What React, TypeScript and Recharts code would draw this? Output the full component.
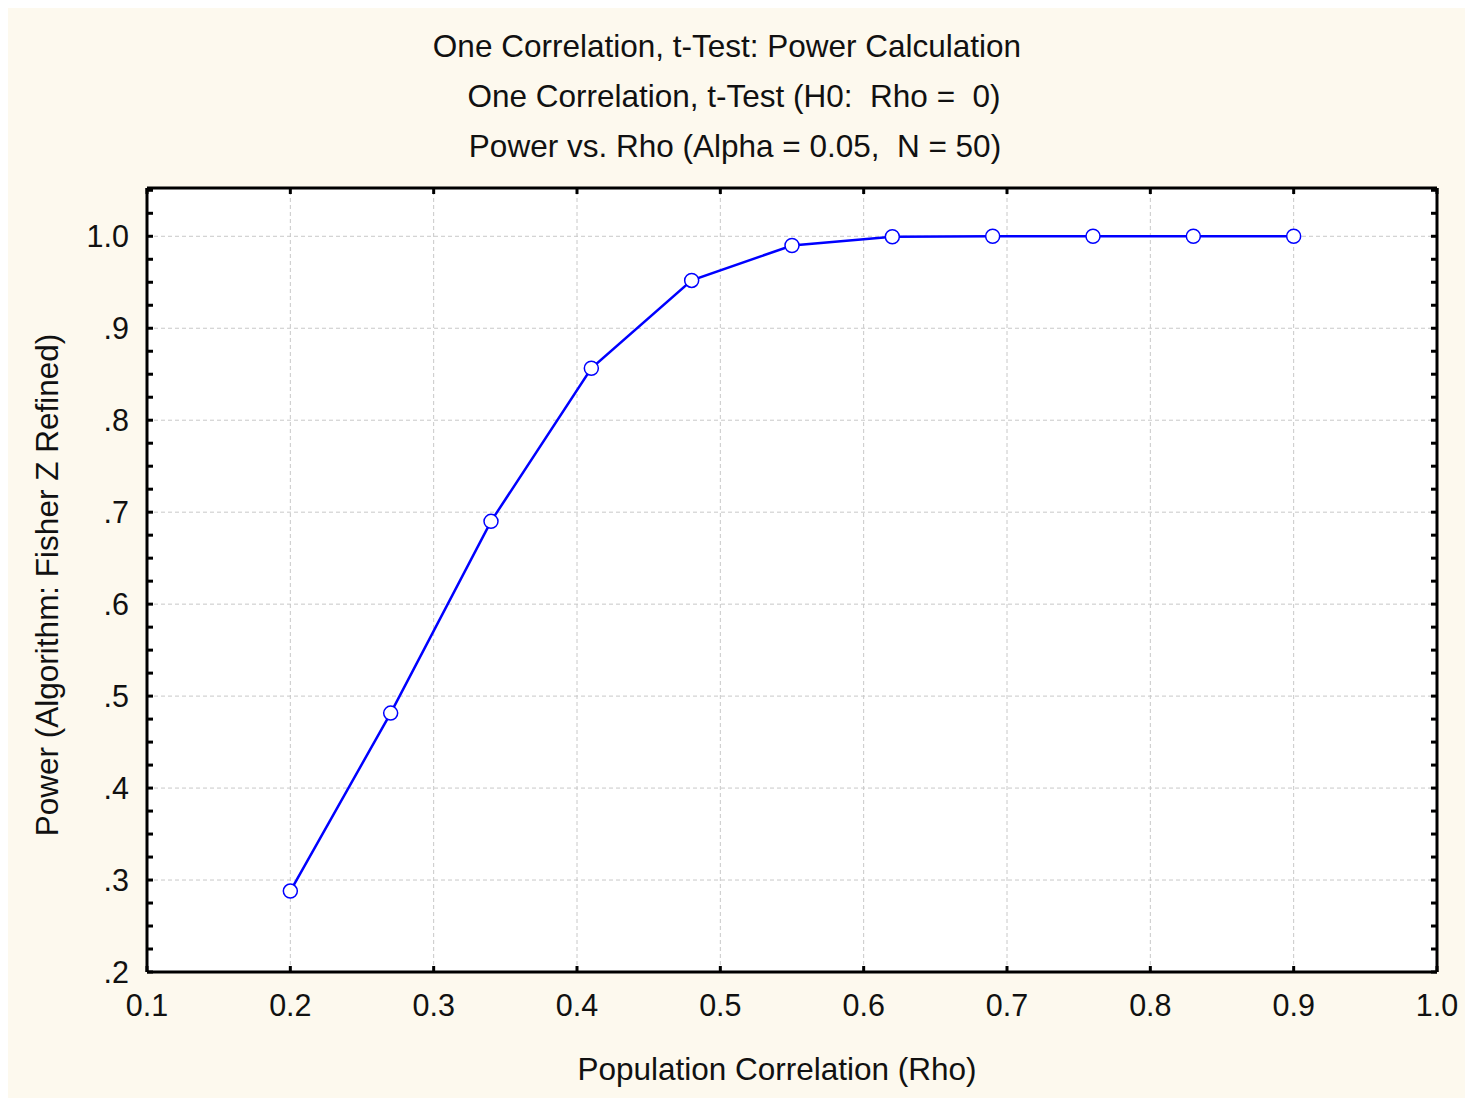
import React from "react";
import { LineChart, Line, XAxis, YAxis, CartesianGrid, ReferenceLine } from "recharts";

const rho = [0.2, 0.27, 0.34, 0.41, 0.48, 0.55, 0.62, 0.69, 0.76, 0.83, 0.9];
const power = [0.288, 0.4815, 0.69, 0.8565, 0.952, 0.99, 0.9995, 1.0, 1.0, 1.0, 1.0];
const xTicks = [0.1, 0.2, 0.3, 0.4, 0.5, 0.6, 0.7, 0.8, 0.9, 1.0];
const xTickLabels = ["0.1", "0.2", "0.3", "0.4", "0.5", "0.6", "0.7", "0.8", "0.9", "1.0"];
const yMajor = [0.2, 0.3, 0.4, 0.5, 0.6, 0.7, 0.8, 0.9, 1.0];
const yMajorLabels = [".2", ".3", ".4", ".5", ".6", ".7", ".8", ".9", "1.0"];
const titles = [
  "One Correlation, t-Test: Power Calculation",
  "One Correlation, t-Test (H0:  Rho =  0)",
  "Power vs. Rho (Alpha = 0.05,  N = 50)",
];
const xLabel = "Population Correlation (Rho)";
const yLabel = "Power (Algorithm: Fisher Z Refined)";

const data = rho.map((r, i) => ({ rho: r, power: power[i] }));

const yTicks: number[] = [];
for (let k = 0; k <= 34; k++) yTicks.push(Math.round((0.2 + k * 0.025) * 1000) / 1000);

const FONT = "'Liberation Sans', Arial, sans-serif";
const W = 1465;
const H = 1095;
const M = { top: 184, right: 35, left: 0, bottom: 0 };
const YW = 139;
const XH = 126;
const TICK_FS = 30.5;
const TEXT_FS = 31.5;

const majorIdx = (v: number) => yMajor.findIndex((m) => Math.abs(m - v) < 1e-6);

const LeftTick = (props: any) => {
  const { x, y, payload } = props;
  const i = majorIdx(payload.value);
  return (
    <g>
      <line x1={x} x2={x + 6} y1={y} y2={y} stroke="#000" strokeWidth={3} />
      {i >= 0 && (
        <text x={x - 18} y={y} dy="0.36em" textAnchor="end" fontFamily={FONT} fontSize={TICK_FS} fill="#111">
          {yMajorLabels[i]}
        </text>
      )}
    </g>
  );
};

const RightTick = (props: any) => {
  const { x, y } = props;
  return <line x1={x} x2={x - 6} y1={y} y2={y} stroke="#000" strokeWidth={3} />;
};

const BottomTick = (props: any) => {
  const { x, y, payload } = props;
  const i = xTicks.findIndex((m) => Math.abs(m - payload.value) < 1e-6);
  return (
    <g>
      <line x1={x} x2={x} y1={y} y2={y - 6} stroke="#000" strokeWidth={3} />
      <text x={x} y={y + 33} dy="0.36em" textAnchor="middle" fontFamily={FONT} fontSize={TICK_FS} fill="#111">
        {i >= 0 ? xTickLabels[i] : ""}
      </text>
    </g>
  );
};

const TopTick = (props: any) => {
  const { x, y } = props;
  return <line x1={x} x2={x} y1={y} y2={y + 6} stroke="#000" strokeWidth={3} />;
};

const titleX = [719, 726, 727];

export default function App() {
  return (
    <div style={{ position: "relative", top: -5, width: W, height: H, background: "#fdf9ee" }}>
      <LineChart width={W} height={H} data={data} margin={M}>
        <CartesianGrid fill="#ffffff" fillOpacity={1} horizontal={false} vertical={false} />
        <XAxis
          xAxisId="b"
          dataKey="rho"
          type="number"
          domain={[0.1, 1.0]}
          ticks={xTicks}
          interval={0}
          height={XH}
          tickSize={0}
          tickMargin={0}
          tickLine={false}
          axisLine={{ stroke: "#000", strokeWidth: 3 }}
          tick={<BottomTick />}
          allowDataOverflow
        />
        <XAxis
          xAxisId="t"
          orientation="top"
          dataKey="rho"
          type="number"
          domain={[0.1, 1.0]}
          ticks={xTicks}
          interval={0}
          height={1}
          tickSize={0}
          tickMargin={0}
          tickLine={false}
          axisLine={{ stroke: "#000", strokeWidth: 3 }}
          tick={<TopTick />}
          allowDataOverflow
        />
        <YAxis
          yAxisId="l"
          type="number"
          domain={[0.2, 1.0525]}
          ticks={yTicks}
          interval={0}
          width={YW}
          tickSize={0}
          tickMargin={0}
          tickLine={false}
          axisLine={{ stroke: "#000", strokeWidth: 3 }}
          tick={<LeftTick />}
          allowDataOverflow
        />
        <YAxis
          yAxisId="r"
          orientation="right"
          type="number"
          domain={[0.2, 1.0525]}
          ticks={yTicks}
          interval={0}
          width={1}
          tickSize={0}
          tickMargin={0}
          tickLine={false}
          axisLine={{ stroke: "#000", strokeWidth: 3 }}
          tick={<RightTick />}
          allowDataOverflow
        />
        {yMajor.slice(1).map((v) => (
          <ReferenceLine key={"h" + v} xAxisId="b" yAxisId="l" y={v} stroke="#c8c8c8" strokeDasharray="4 3" />
        ))}
        {xTicks.slice(1, -1).map((v) => (
          <ReferenceLine key={"v" + v} xAxisId="b" yAxisId="l" x={v} stroke="#c8c8c8" strokeDasharray="4 3" />
        ))}
        <Line
          xAxisId="b"
          yAxisId="l"
          dataKey="power"
          stroke="#0000ff"
          strokeWidth={2.5}
          dot={{ r: 7, fill: "#ffffff", stroke: "#0000ff", strokeWidth: 1.5 }}
          isAnimationActive={false}
        />
        {titles.map((t, i) => (
          <text
            key={t}
            x={titleX[i]}
            y={43 + i * 50}
            dy="0.36em"
            textAnchor="middle"
            fontFamily={FONT}
            fontSize={TEXT_FS}
            fill="#111"
            xmlSpace="preserve"
            style={{ whiteSpace: "pre" }}
          >
            {t}
          </text>
        ))}
        <text x={769} y={1066} dy="0.36em" textAnchor="middle" fontFamily={FONT} fontSize={TEXT_FS} fill="#111">
          {xLabel}
        </text>
        <text
          x={39}
          y={582}
          dy="0.36em"
          textAnchor="middle"
          fontFamily={FONT}
          fontSize={TEXT_FS}
          fill="#111"
          transform="rotate(-90 39 582)"
        >
          {yLabel}
        </text>
      </LineChart>
    </div>
  );
}
